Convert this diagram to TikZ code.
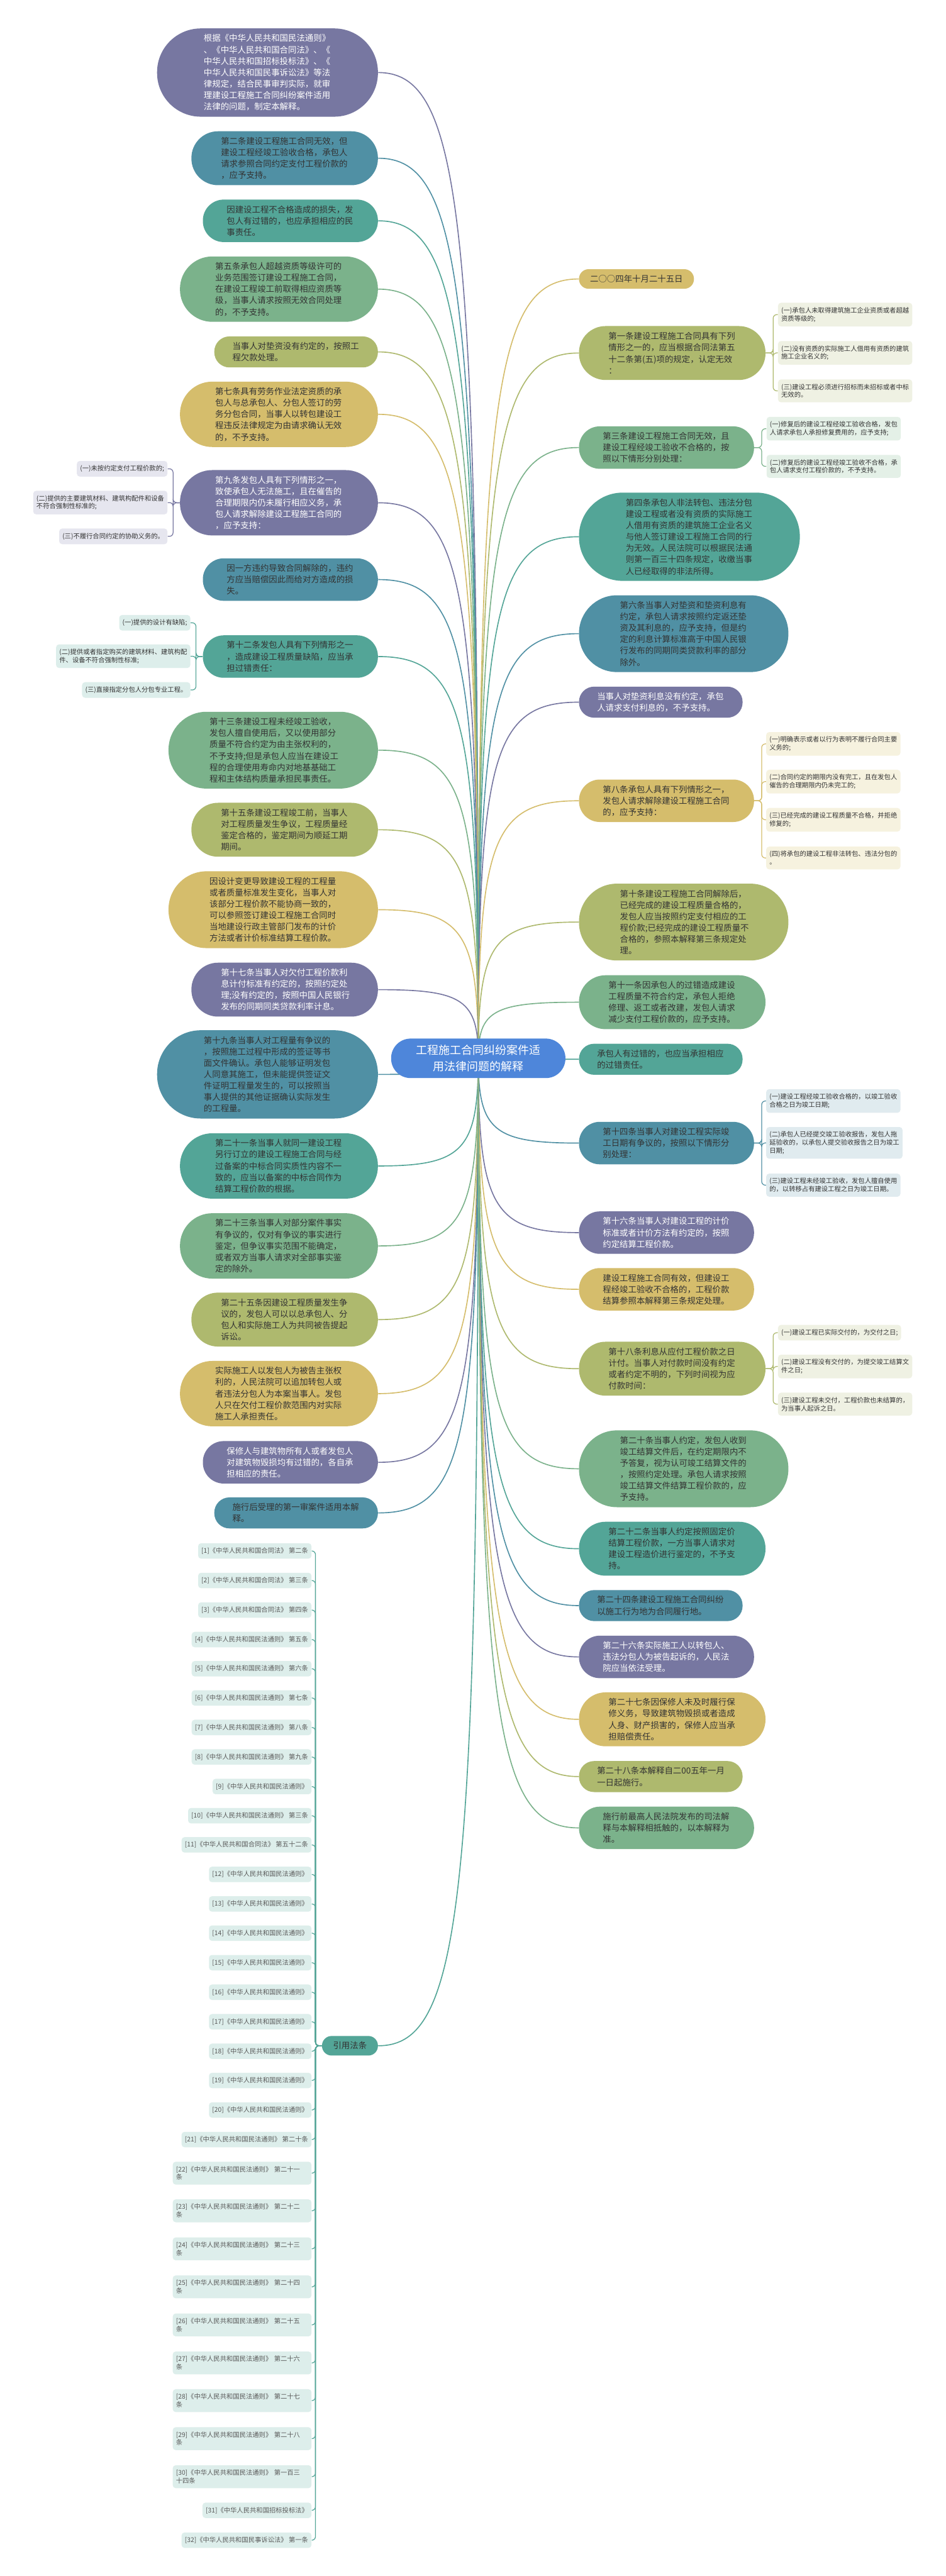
\documentclass[tikz,border=0pt]{standalone}
\usepackage{fontspec}
\usepackage{xcolor}
\usepackage{tikz}
\usetikzlibrary{calc,backgrounds}
\newfontfamily\cjk{Noto Sans CJK SC}

\definecolor{rootblue}{HTML}{4E86DA}
\definecolor{mpurple}{HTML}{7777A1}
\definecolor{mtblue}{HTML}{5090A4}
\definecolor{mteal}{HTML}{53A597}
\definecolor{mgreen}{HTML}{7BB28B}
\definecolor{molive}{HTML}{AEB96E}
\definecolor{mgold}{HTML}{D5BD6C}
\definecolor{kpurple}{HTML}{E6E6EF}
\definecolor{kteal}{HTML}{DDEEEB}
\definecolor{kolive}{HTML}{EFF1E3}
\definecolor{kgreen}{HTML}{E4F0E7}
\definecolor{kgold}{HTML}{F6F2DF}
\definecolor{kblue}{HTML}{E0EBEF}
\definecolor{txt}{HTML}{333333}

\newcommand{\branch}[2]{%
  \draw[#1,line width=0.8pt] let \p1=(root.center), \p2=(#2) in
    (\p1) .. controls (\x1,{\y1+0.85*((\y2)-(\y1))}) and ({\x2+0.85*((\x1)-(\x2))},\y2) .. (\p2);}

\begin{document}
\begin{tikzpicture}[x=1cm,y=-1cm,
    art/.style={rectangle, text width=3.45cm, align=left, inner xsep=0pt, inner ysep=2pt,
      minimum height=0.22cm+0.31cm*#1, minimum width=3.81cm+0.31cm*#1,
      rounded corners=0.1cm+0.155cm*#1, text=txt, font=\cjk\fontsize{6.5}{8.8}\selectfont},
    tag/.style={rectangle, align=left, inner xsep=0.3cm, inner ysep=0pt, minimum height=0.53cm,
      rounded corners=0.26cm, text=txt, font=\cjk\fontsize{6.5}{8.8}\selectfont},
    kid/.style={rectangle, rounded corners=0.08cm, align=left, inner xsep=2.5pt, inner ysep=3.4pt,
      text=txt, font=\cjk\fontsize{5}{6.2}\selectfont},
    cite/.style={kid, fill=kteal, text=black!65},
    citetwo/.style={cite, text width=3.58cm},
    link/.style={line width=0.6pt, rounded corners=0.1cm}]

             \useasboundingbox (0,0) rectangle (25.6,69.76);

             \node[rectangle, fill=rootblue, text=white, align=center, inner sep=0pt,
                   minimum width=4.72cm, minimum height=1.07cm, rounded corners=0.53cm,
                   font=\cjk\fontsize{8.7}{12.5}\selectfont] (root) at (12.95,28.66)
                   {工程施工合同纠纷案件适\\用法律问题的解释};

             % left side
             \node[art=7, fill=mpurple, text=white, anchor=east] (l1) at (10.24,1.965) {根据《中华人民共和国民法通则》\\、《中华人民共和国合同法》、《\\中华人民共和国招标投标法》、《\\中华人民共和国民事诉讼法》等法\\律规定，结合民事审判实际，就审\\理建设工程施工合同纠纷案件适用\\法律的问题，制定本解释。};
             \node[art=4, fill=mtblue, anchor=east] (l2) at (10.24,4.285) {第二条建设工程施工合同无效，但\\建设工程经竣工验收合格，承包人\\请求参照合同约定支付工程价款的\\，应予支持。};
             \node[art=3, fill=mteal, anchor=east] (l3) at (10.24,5.98) {因建设工程不合格造成的损失，发\\包人有过错的，也应承担相应的民\\事责任。};
             \node[art=5, fill=mgreen, anchor=east] (l4) at (10.24,7.83) {第五条承包人超越资质等级许可的\\业务范围签订建设工程施工合同，\\在建设工程竣工前取得相应资质等\\级，当事人请求按照无效合同处理\\的，不予支持。};
             \node[art=2, fill=molive, anchor=east] (l5) at (10.24,9.53) {当事人对垫资没有约定的，按照工\\程欠款处理。};
             \node[art=5, fill=mgold, anchor=east] (l6) at (10.24,11.22) {第七条具有劳务作业法定资质的承\\包人与总承包人、分包人签订的劳\\务分包合同，当事人以转包建设工\\程违反法律规定为由请求确认无效\\的，不予支持。};
             \node[art=5, fill=mpurple, text=white, anchor=east] (l7) at (10.24,13.615) {第九条发包人具有下列情形之一，\\致使承包人无法施工，且在催告的\\合理期限内仍未履行相应义务，承\\包人请求解除建设工程施工合同的\\，应予支持：};
             \node[kid, fill=kpurple, anchor=east] (l7a) at (4.54,12.695) {(一)未按约定支付工程价款的;};
             \node[kid, fill=kpurple, anchor=east] (l7b) at (4.54,13.61) {(二)提供的主要建筑材料、建筑构配件和设备\\不符合强制性标准的;};
             \node[kid, fill=kpurple, anchor=east] (l7c) at (4.54,14.525) {(三)不履行合同约定的协助义务的。};
             \node[art=3, fill=mtblue, anchor=east] (l8) at (10.24,15.695) {因一方违约导致合同解除的，违约\\方应当赔偿因此而给对方造成的损\\失。};
             \node[art=3, fill=mteal, anchor=east] (l9) at (10.24,17.78) {第十二条发包人具有下列情形之一\\，造成建设工程质量缺陷，应当承\\担过错责任：};
             \node[kid, fill=kteal, anchor=east] (l9a) at (5.16,16.865) {(一)提供的设计有缺陷;};
             \node[kid, fill=kteal, anchor=east] (l9b) at (5.16,17.77) {(二)提供或者指定购买的建筑材料、建筑构配\\件、设备不符合强制性标准;};
             \node[kid, fill=kteal, anchor=east] (l9c) at (5.16,18.685) {(三)直接指定分包人分包专业工程。};
             \node[art=6, fill=mgreen, anchor=east] (l10) at (10.24,20.315) {第十三条建设工程未经竣工验收，\\发包人擅自使用后，又以使用部分\\质量不符合约定为由主张权利的，\\不予支持;但是承包人应当在建设工\\程的合理使用寿命内对地基基础工\\程和主体结构质量承担民事责任。};
             \node[art=4, fill=molive, anchor=east] (l11) at (10.24,22.47) {第十五条建设工程竣工前，当事人\\对工程质量发生争议，工程质量经\\鉴定合格的，鉴定期间为顺延工期\\期间。};
             \node[art=6, fill=mgold, anchor=east] (l12) at (10.24,24.635) {因设计变更导致建设工程的工程量\\或者质量标准发生变化，当事人对\\该部分工程价款不能协商一致的，\\可以参照签订建设工程施工合同时\\当地建设行政主管部门发布的计价\\方法或者计价标准结算工程价款。};
             \node[art=4, fill=mpurple, text=white, anchor=east] (l13) at (10.24,26.80) {第十七条当事人对欠付工程价款利\\息计付标准有约定的，按照约定处\\理;没有约定的，按照中国人民银行\\发布的同期同类贷款利率计息。};
             \node[art=7, fill=mtblue, anchor=east] (l14) at (10.24,29.095) {第十九条当事人对工程量有争议的\\，按照施工过程中形成的签证等书\\面文件确认。承包人能够证明发包\\人同意其施工，但未能提供签证文\\件证明工程量发生的，可以按照当\\事人提供的其他证据确认实际发生\\的工程量。};
             \node[art=5, fill=mteal, anchor=east] (l15) at (10.24,31.575) {第二十一条当事人就同一建设工程\\另行订立的建设工程施工合同与经\\过备案的中标合同实质性内容不一\\致的，应当以备案的中标合同作为\\结算工程价款的根据。};
             \node[art=5, fill=mgreen, anchor=east] (l16) at (10.24,33.74) {第二十三条当事人对部分案件事实\\有争议的，仅对有争议的事实进行\\鉴定，但争议事实范围不能确定，\\或者双方当事人请求对全部事实鉴\\定的除外。};
             \node[art=4, fill=molive, anchor=east] (l17) at (10.24,35.735) {第二十五条因建设工程质量发生争\\议的，发包人可以以总承包人、分\\包人和实际施工人为共同被告提起\\诉讼。};
             \node[art=5, fill=mgold, anchor=east] (l18) at (10.24,37.74) {实际施工人以发包人为被告主张权\\利的，人民法院可以追加转包人或\\者违法分包人为本案当事人。发包\\人只在欠付工程价款范围内对实际\\施工人承担责任。};
             \node[art=3, fill=mpurple, text=white, anchor=east] (l19) at (10.24,39.60) {保修人与建筑物所有人或者发包人\\对建筑物毁损均有过错的，各自承\\担相应的责任。};
             \node[art=2, fill=mtblue, anchor=east] (l20) at (10.24,40.97) {施行后受理的第一审案件适用本解\\释。};
             \node[tag, fill=mteal, anchor=east] (cit) at (10.24,55.40) {引用法条};

             \node[cite, anchor=east] (c1) at (8.44,42.00) {[1]《中华人民共和国合同法》 第二条};
             \node[cite, anchor=east] (c2) at (8.44,42.80) {[2]《中华人民共和国合同法》 第三条};
             \node[cite, anchor=east] (c3) at (8.44,43.60) {[3]《中华人民共和国合同法》 第四条};
             \node[cite, anchor=east] (c4) at (8.44,44.40) {[4]《中华人民共和国民法通则》 第五条};
             \node[cite, anchor=east] (c5) at (8.44,45.19) {[5]《中华人民共和国民法通则》 第六条};
             \node[cite, anchor=east] (c6) at (8.44,45.98) {[6]《中华人民共和国民法通则》 第七条};
             \node[cite, anchor=east] (c7) at (8.44,46.78) {[7]《中华人民共和国民法通则》 第八条};
             \node[cite, anchor=east] (c8) at (8.44,47.58) {[8]《中华人民共和国民法通则》 第九条};
             \node[cite, anchor=east] (c9) at (8.44,48.38) {[9]《中华人民共和国民法通则》};
             \node[cite, anchor=east] (c10) at (8.44,49.17) {[10]《中华人民共和国民法通则》 第三条};
             \node[cite, anchor=east] (c11) at (8.44,49.96) {[11]《中华人民共和国合同法》 第五十二条};
             \node[cite, anchor=east] (c12) at (8.44,50.76) {[12]《中华人民共和国民法通则》};
             \node[cite, anchor=east] (c13) at (8.44,51.56) {[13]《中华人民共和国民法通则》};
             \node[cite, anchor=east] (c14) at (8.44,52.35) {[14]《中华人民共和国民法通则》};
             \node[cite, anchor=east] (c15) at (8.44,53.15) {[15]《中华人民共和国民法通则》};
             \node[cite, anchor=east] (c16) at (8.44,53.95) {[16]《中华人民共和国民法通则》};
             \node[cite, anchor=east] (c17) at (8.44,54.75) {[17]《中华人民共和国民法通则》};
             \node[cite, anchor=east] (c18) at (8.44,55.55) {[18]《中华人民共和国民法通则》};
             \node[cite, anchor=east] (c19) at (8.44,56.34) {[19]《中华人民共和国民法通则》};
             \node[cite, anchor=east] (c20) at (8.44,57.14) {[20]《中华人民共和国民法通则》};
             \node[cite, anchor=east] (c21) at (8.44,57.94) {[21]《中华人民共和国民法通则》 第二十条};
             \node[citetwo, anchor=east] (c22) at (8.44,58.85) {[22]《中华人民共和国民法通则》 第二十一\\条};
             \node[citetwo, anchor=east] (c23) at (8.44,59.87) {[23]《中华人民共和国民法通则》 第二十二\\条};
             \node[citetwo, anchor=east] (c24) at (8.44,60.90) {[24]《中华人民共和国民法通则》 第二十三\\条};
             \node[citetwo, anchor=east] (c25) at (8.44,61.93) {[25]《中华人民共和国民法通则》 第二十四\\条};
             \node[citetwo, anchor=east] (c26) at (8.44,62.96) {[26]《中华人民共和国民法通则》 第二十五\\条};
             \node[citetwo, anchor=east] (c27) at (8.44,63.99) {[27]《中华人民共和国民法通则》 第二十六\\条};
             \node[citetwo, anchor=east] (c28) at (8.44,65.01) {[28]《中华人民共和国民法通则》 第二十七\\条};
             \node[citetwo, anchor=east] (c29) at (8.44,66.04) {[29]《中华人民共和国民法通则》 第二十八\\条};
             \node[citetwo, anchor=east] (c30) at (8.44,67.07) {[30]《中华人民共和国民法通则》 第一百三\\十四条};
             \node[cite, anchor=east] (c31) at (8.44,67.98) {[31]《中华人民共和国招标投标法》};
             \node[cite, anchor=east] (c32) at (8.44,68.79) {[32]《中华人民共和国民事诉讼法》 第一条};

             % right side
             \node[tag, fill=mgold, anchor=west] (r1) at (15.67,7.555) {二○○四年十月二十五日};
             \node[art=4, fill=molive, anchor=west] (r2) at (15.67,9.56) {第一条建设工程施工合同具有下列\\情形之一的，应当根据合同法第五\\十二条第(五)项的规定，认定无效\\：};
             \node[kid, fill=kolive, anchor=west] (r2a) at (21.06,8.52) {(一)承包人未取得建筑施工企业资质或者超越\\资质等级的;};
             \node[kid, fill=kolive, anchor=west] (r2b) at (21.06,9.555) {(二)没有资质的实际施工人借用有资质的建筑\\施工企业名义的;};
             \node[kid, fill=kolive, anchor=west] (r2c) at (21.06,10.585) {(三)建设工程必须进行招标而未招标或者中标\\无效的。};
             \node[art=3, fill=mgreen, anchor=west] (r3) at (15.67,12.12) {第三条建设工程施工合同无效，且\\建设工程经竣工验收不合格的，按\\照以下情形分别处理：};
             \node[kid, fill=kgreen, anchor=west] (r3a) at (20.75,11.61) {(一)修复后的建设工程经竣工验收合格，发包\\人请求承包人承担修复费用的，应予支持;};
             \node[kid, fill=kgreen, anchor=west] (r3b) at (20.75,12.63) {(二)修复后的建设工程经竣工验收不合格，承\\包人请求支付工程价款的，不予支持。};
             \node[art=7, fill=mteal, anchor=west] (r4) at (15.67,14.535) {第四条承包人非法转包、违法分包\\建设工程或者没有资质的实际施工\\人借用有资质的建筑施工企业名义\\与他人签订建设工程施工合同的行\\为无效。人民法院可以根据民法通\\则第一百三十四条规定，收缴当事\\人已经取得的非法所得。};
             \node[art=6, fill=mtblue, anchor=west] (r5) at (15.67,17.16) {第六条当事人对垫资和垫资利息有\\约定，承包人请求按照约定返还垫\\资及其利息的，应予支持，但是约\\定的利息计算标准高于中国人民银\\行发布的同期同类贷款利率的部分\\除外。};
             \node[art=2, fill=mpurple, text=white, anchor=west] (r6) at (15.67,19.015) {当事人对垫资利息没有约定，承包\\人请求支付利息的，不予支持。};
             \node[art=3, fill=mgold, anchor=west] (r7) at (15.67,21.685) {第八条承包人具有下列情形之一，\\发包人请求解除建设工程施工合同\\的，应予支持：};
             \node[kid, fill=kgold, anchor=west] (r7a) at (20.74,20.145) {(一)明确表示或者以行为表明不履行合同主要\\义务的;};
             \node[kid, fill=kgold, anchor=west] (r7b) at (20.74,21.165) {(二)合同约定的期限内没有完工，且在发包人\\催告的合理期限内仍未完工的;};
             \node[kid, fill=kgold, anchor=west] (r7c) at (20.74,22.20) {(三)已经完成的建设工程质量不合格，并拒绝\\修复的;};
             \node[kid, fill=kgold, anchor=west] (r7d) at (20.74,23.235) {(四)将承包的建设工程非法转包、违法分包的\\。};
             \node[art=6, fill=molive, anchor=west] (r8) at (15.67,24.97) {第十条建设工程施工合同解除后，\\已经完成的建设工程质量合格的，\\发包人应当按照约定支付相应的工\\程价款;已经完成的建设工程质量不\\合格的，参照本解释第三条规定处\\理。};
             \node[art=4, fill=mgreen, anchor=west] (r9) at (15.67,27.14) {第十一条因承包人的过错造成建设\\工程质量不符合约定，承包人拒绝\\修理、返工或者改建，发包人请求\\减少支付工程价款的，应予支持。};
             \node[art=2, fill=mteal, anchor=west] (r10) at (15.67,28.685) {承包人有过错的，也应当承担相应\\的过错责任。};
             \node[art=3, fill=mtblue, anchor=west] (r11) at (15.67,30.955) {第十四条当事人对建设工程实际竣\\工日期有争议的，按照以下情形分\\别处理：};
             \node[kid, fill=kblue, anchor=west] (r11a) at (20.74,29.815) {(一)建设工程经竣工验收合格的，以竣工验收\\合格之日为竣工日期;};
             \node[kid, fill=kblue, anchor=west] (r11b) at (20.74,30.95) {(二)承包人已经提交竣工验收报告，发包人拖\\延验收的，以承包人提交验收报告之日为竣工\\日期;};
             \node[kid, fill=kblue, anchor=west] (r11c) at (20.74,32.095) {(三)建设工程未经竣工验收，发包人擅自使用\\的，以转移占有建设工程之日为竣工日期。};
             \node[art=3, fill=mpurple, text=white, anchor=west] (r12) at (15.67,33.38) {第十六条当事人对建设工程的计价\\标准或者计价方法有约定的，按照\\约定结算工程价款。};
             \node[art=3, fill=mgold, anchor=west] (r13) at (15.67,34.915) {建设工程施工合同有效，但建设工\\程经竣工验收不合格的，工程价款\\结算参照本解释第三条规定处理。};
             \node[art=4, fill=molive, anchor=west] (r14) at (15.67,37.065) {第十八条利息从应付工程价款之日\\计付。当事人对付款时间没有约定\\或者约定不明的，下列时间视为应\\付款时间：};
             \node[kid, fill=kolive, anchor=west] (r14a) at (21.06,36.09) {(一)建设工程已实际交付的，为交付之日;};
             \node[kid, fill=kolive, anchor=west] (r14b) at (21.06,37.005) {(二)建设工程没有交付的，为提交竣工结算文\\件之日;};
             \node[kid, fill=kolive, anchor=west] (r14c) at (21.06,38.025) {(三)建设工程未交付，工程价款也未结算的，\\为当事人起诉之日。};
             \node[art=6, fill=mgreen, anchor=west] (r15) at (15.67,39.775) {第二十条当事人约定，发包人收到\\竣工结算文件后，在约定期限内不\\予答复，视为认可竣工结算文件的\\，按照约定处理。承包人请求按照\\竣工结算文件结算工程价款的，应\\予支持。};
             \node[art=4, fill=mteal, anchor=west] (r16) at (15.67,41.94) {第二十二条当事人约定按照固定价\\结算工程价款，一方当事人请求对\\建设工程造价进行鉴定的，不予支\\持。};
             \node[art=2, fill=mtblue, anchor=west] (r17) at (15.67,43.48) {第二十四条建设工程施工合同纠纷\\以施工行为地为合同履行地。};
             \node[art=3, fill=mpurple, text=white, anchor=west] (r18) at (15.67,44.87) {第二十六条实际施工人以转包人、\\违法分包人为被告起诉的，人民法\\院应当依法受理。};
             \node[art=4, fill=mgold, anchor=west] (r19) at (15.67,46.56) {第二十七条因保修人未及时履行保\\修义务，导致建筑物毁损或者造成\\人身、财产损害的，保修人应当承\\担赔偿责任。};
             \node[art=2, fill=molive, anchor=west] (r20) at (15.67,48.11) {第二十八条本解释自二00五年一月\\一日起施行。};
             \node[art=3, fill=mgreen, anchor=west] (r21) at (15.67,49.50) {施行前最高人民法院发布的司法解\\释与本解释相抵触的，以本解释为\\准。};

             \begin{scope}[on background layer]
             \fill[white] (0,0) rectangle (25.6,69.76);

             \branch{mpurple}{l1.east}
             \branch{mtblue}{l2.east}
             \branch{mteal}{l3.east}
             \branch{mgreen}{l4.east}
             \branch{molive}{l5.east}
             \branch{mgold}{l6.east}
             \branch{mpurple}{l7.east}
             \branch{mtblue}{l8.east}
             \branch{mteal}{l9.east}
             \branch{mgreen}{l10.east}
             \branch{molive}{l11.east}
             \branch{mgold}{l12.east}
             \branch{mpurple}{l13.east}
             \branch{mtblue}{l14.east}
             \branch{mteal}{l15.east}
             \branch{mgreen}{l16.east}
             \branch{molive}{l17.east}
             \branch{mgold}{l18.east}
             \branch{mpurple}{l19.east}
             \branch{mtblue}{l20.east}
             \branch{mteal}{cit.east}

             \branch{mgold}{r1.west}
             \branch{molive}{r2.west}
             \branch{mgreen}{r3.west}
             \branch{mteal}{r4.west}
             \branch{mtblue}{r5.west}
             \branch{mpurple}{r6.west}
             \branch{mgold}{r7.west}
             \branch{molive}{r8.west}
             \branch{mgreen}{r9.west}
             \branch{mteal}{r10.west}
             \branch{mtblue}{r11.west}
             \branch{mpurple}{r12.west}
             \branch{mgold}{r13.west}
             \branch{molive}{r14.west}
             \branch{mgreen}{r15.west}
             \branch{mteal}{r16.west}
             \branch{mtblue}{r17.west}
             \branch{mpurple}{r18.west}
             \branch{mgold}{r19.west}
             \branch{molive}{r20.west}
             \branch{mgreen}{r21.west}

             \draw[link, mpurple] (l7.west) -- ++(-0.18,0) |- (l7a.east);
             \draw[link, mpurple] (l7.west) -- ++(-0.18,0) |- (l7b.east);
             \draw[link, mpurple] (l7.west) -- ++(-0.18,0) |- (l7c.east);
             \draw[link, mteal] (l9.west) -- ++(-0.18,0) |- (l9a.east);
             \draw[link, mteal] (l9.west) -- ++(-0.18,0) |- (l9b.east);
             \draw[link, mteal] (l9.west) -- ++(-0.18,0) |- (l9c.east);

             \draw[link, molive] (r2.east) -- ++(0.2,0) |- (r2a.west);
             \draw[link, molive] (r2.east) -- ++(0.2,0) |- (r2b.west);
             \draw[link, molive] (r2.east) -- ++(0.2,0) |- (r2c.west);
             \draw[link, mgreen] (r3.east) -- ++(0.2,0) |- (r3a.west);
             \draw[link, mgreen] (r3.east) -- ++(0.2,0) |- (r3b.west);
             \draw[link, mgold] (r7.east) -- ++(0.2,0) |- (r7a.west);
             \draw[link, mgold] (r7.east) -- ++(0.2,0) |- (r7b.west);
             \draw[link, mgold] (r7.east) -- ++(0.2,0) |- (r7c.west);
             \draw[link, mgold] (r7.east) -- ++(0.2,0) |- (r7d.west);
             \draw[link, mtblue] (r11.east) -- ++(0.2,0) |- (r11a.west);
             \draw[link, mtblue] (r11.east) -- ++(0.2,0) |- (r11b.west);
             \draw[link, mtblue] (r11.east) -- ++(0.2,0) |- (r11c.west);
             \draw[link, molive] (r14.east) -- ++(0.2,0) |- (r14a.west);
             \draw[link, molive] (r14.east) -- ++(0.2,0) |- (r14b.west);
             \draw[link, molive] (r14.east) -- ++(0.2,0) |- (r14c.west);

             \draw[link, mteal] (cit.west) -- ++(-0.17,0) |- (c1.east);
             \draw[link, mteal] (cit.west) -- ++(-0.17,0) |- (c2.east);
             \draw[link, mteal] (cit.west) -- ++(-0.17,0) |- (c3.east);
             \draw[link, mteal] (cit.west) -- ++(-0.17,0) |- (c4.east);
             \draw[link, mteal] (cit.west) -- ++(-0.17,0) |- (c5.east);
             \draw[link, mteal] (cit.west) -- ++(-0.17,0) |- (c6.east);
             \draw[link, mteal] (cit.west) -- ++(-0.17,0) |- (c7.east);
             \draw[link, mteal] (cit.west) -- ++(-0.17,0) |- (c8.east);
             \draw[link, mteal] (cit.west) -- ++(-0.17,0) |- (c9.east);
             \draw[link, mteal] (cit.west) -- ++(-0.17,0) |- (c10.east);
             \draw[link, mteal] (cit.west) -- ++(-0.17,0) |- (c11.east);
             \draw[link, mteal] (cit.west) -- ++(-0.17,0) |- (c12.east);
             \draw[link, mteal] (cit.west) -- ++(-0.17,0) |- (c13.east);
             \draw[link, mteal] (cit.west) -- ++(-0.17,0) |- (c14.east);
             \draw[link, mteal] (cit.west) -- ++(-0.17,0) |- (c15.east);
             \draw[link, mteal] (cit.west) -- ++(-0.17,0) |- (c16.east);
             \draw[link, mteal] (cit.west) -- ++(-0.17,0) |- (c17.east);
             \draw[link, mteal] (cit.west) -- ++(-0.17,0) |- (c18.east);
             \draw[link, mteal] (cit.west) -- ++(-0.17,0) |- (c19.east);
             \draw[link, mteal] (cit.west) -- ++(-0.17,0) |- (c20.east);
             \draw[link, mteal] (cit.west) -- ++(-0.17,0) |- (c21.east);
             \draw[link, mteal] (cit.west) -- ++(-0.17,0) |- (c22.east);
             \draw[link, mteal] (cit.west) -- ++(-0.17,0) |- (c23.east);
             \draw[link, mteal] (cit.west) -- ++(-0.17,0) |- (c24.east);
             \draw[link, mteal] (cit.west) -- ++(-0.17,0) |- (c25.east);
             \draw[link, mteal] (cit.west) -- ++(-0.17,0) |- (c26.east);
             \draw[link, mteal] (cit.west) -- ++(-0.17,0) |- (c27.east);
             \draw[link, mteal] (cit.west) -- ++(-0.17,0) |- (c28.east);
             \draw[link, mteal] (cit.west) -- ++(-0.17,0) |- (c29.east);
             \draw[link, mteal] (cit.west) -- ++(-0.17,0) |- (c30.east);
             \draw[link, mteal] (cit.west) -- ++(-0.17,0) |- (c31.east);
             \draw[link, mteal] (cit.west) -- ++(-0.17,0) |- (c32.east);
             \end{scope}

\end{tikzpicture}
\end{document}
